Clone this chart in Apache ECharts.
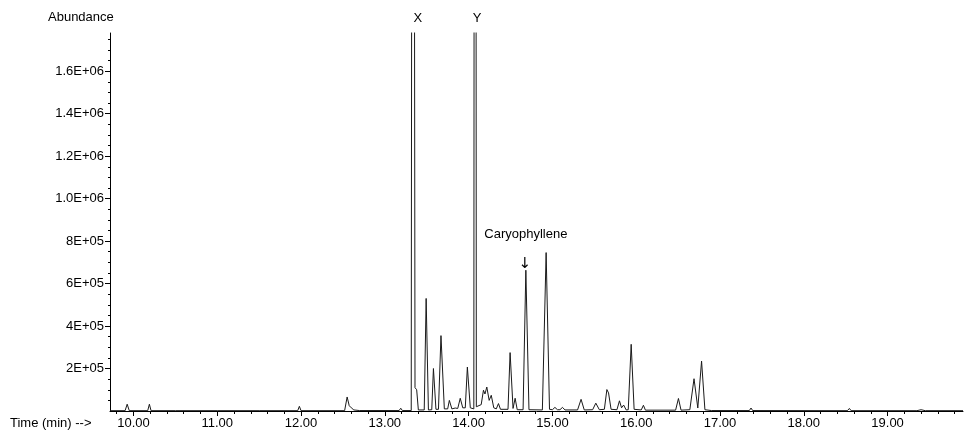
<!DOCTYPE html>
<html>
	<head>
		<meta charset="utf-8" />
		<title>Chromatogram</title>
		<script src="https://cdn.jsdelivr.net/npm/echarts@6/dist/echarts.min.js" type="text/javascript"></script>
		<style>
			html, body { margin: 0; padding: 0; background: #fff; }
		</style>
	</head>
	<body>
		<div id="main" style="width: 964px; height: 433px;"></div>
		<script>
			// retention time (min) and abundance
			var times = [9.72, 9.90, 9.925, 9.95, 10.17, 10.19, 10.21, 10.5, 11.0, 11.5, 11.96, 11.98, 12.00,
				12.52, 12.55, 12.575, 12.60, 12.63, 12.70, 13.17, 13.19, 13.21, 13.315, 13.335, 13.36, 13.38, 13.40,
				13.47, 13.493, 13.52, 13.56, 13.58, 13.61, 13.64, 13.67, 13.71, 13.75, 13.77, 13.80, 13.84, 13.87,
				13.90, 13.93, 13.96, 13.985, 14.02, 14.062, 14.077, 14.092, 14.15, 14.177, 14.195, 14.217, 14.245,
				14.27, 14.30, 14.33, 14.356, 14.38, 14.47, 14.495, 14.53, 14.555, 14.58, 14.65, 14.683, 14.72,
				14.88, 14.925, 14.965, 15.00, 15.03, 15.06, 15.09, 15.12, 15.15, 15.30, 15.342, 15.38, 15.48,
				15.518, 15.56, 15.62, 15.65, 15.67, 15.70, 15.77, 15.80, 15.825, 15.85, 15.88, 15.905, 15.94,
				15.975, 16.06, 16.086, 16.11, 16.47, 16.504, 16.535, 16.64, 16.69, 16.735, 16.78, 16.82, 16.90,
				17.35, 17.37, 17.39, 18.52, 18.544, 18.565, 19.35, 19.40, 19.45, 19.90];
			var abundance = [1500, 1500, 32000, 1500, 1500, 32000, 1500, 1500, 1500, 1500, 1500, 22000, 1500,
				1500, 66000, 25000, 15000, 5000, 2000, 2000, 13000, 2000, 2000, 8000000, 110000, 100000, 5000,
				5000, 530000, 5000, 6000, 200000, 8000, 8000, 355000, 10000, 10000, 50000, 10000, 14000, 12000,
				60000, 15000, 15000, 207000, 15000, 10000, 10000000, 20000, 30000, 98000, 80000, 113000, 50000,
				74000, 15000, 10000, 35000, 8000, 8000, 275000, 12000, 60000, 6000, 6000, 663000, 6000,
				5000, 746000, 8000, 6000, 17000, 6000, 6000, 17000, 5000, 5000, 55000, 5000, 6000,
				37000, 6000, 8000, 101000, 85000, 8000, 6000, 48000, 15000, 28000, 5000, 6000, 314000,
				8000, 5000, 27000, 4000, 4000, 59000, 4000, 6000, 152000, 14000, 235000, 6000, 2000,
				2000, 14000, 2000, 1500, 12000, 1500, 1500, 6000, 1500, 1500];

			var xLabels = [10, 11, 12, 13, 14, 15, 16, 17, 18, 19];
			var xMinorTicks = [9.8, 10.2, 10.4, 10.6, 10.8, 11.2, 11.4, 11.6, 11.8, 12.2, 12.4, 12.6, 12.8,
				13.2, 13.4, 13.6, 13.8, 14.2, 14.4, 14.6, 14.8, 15.2, 15.4, 15.6, 15.8, 16.2, 16.4, 16.6, 16.8,
				17.2, 17.4, 17.6, 17.8, 18.2, 18.4, 18.6, 18.8, 19.2, 19.4, 19.6, 19.8];
			var yTicks = [200000, 400000, 600000, 800000, 1000000, 1200000, 1400000, 1600000];
			var yTickLabels = ['2E+05', '4E+05', '6E+05', '8E+05', '1.0E+06', '1.2E+06', '1.4E+06', '1.6E+06'];
			var yMinorTicks = [50000, 100000, 150000, 250000, 300000, 350000, 450000, 500000, 550000,
				650000, 700000, 750000, 850000, 900000, 950000, 1050000, 1100000, 1150000, 1250000, 1300000,
				1350000, 1450000, 1500000, 1550000, 1650000, 1700000, 1750000];

			var xMin = 9.72, xMax = 19.9, yMax = 1780000;
			var font = 'Liberation Sans';

			var points = [];
			for (var i = 0; i < times.length; i++) {
				points.push([times[i], abundance[i]]);
			}

			var chart = echarts.init(document.getElementById('main'));
			var option = {
				animation: false,
				textStyle: { fontFamily: font, color: '#000' },
				grid: { left: 110, right: 1, top: 33, bottom: 22 },
				xAxis: [{
					type: 'value',
					min: xMin,
					max: xMax,
					position: 'bottom',
					splitLine: { show: false },
					axisLine: { onZero: false, lineStyle: { color: '#000', width: 1 } },
					axisTick: { length: 5, customValues: xLabels, lineStyle: { color: '#000' } },
					axisLabel: {
						customValues: xLabels,
						margin: 6,
						fontSize: 13,
						color: '#000',
						fontFamily: font,
						formatter: function(v) { return v.toFixed(2); }
					}
				}, {
					type: 'value',
					min: xMin,
					max: xMax,
					position: 'bottom',
					splitLine: { show: false },
					axisLine: { show: false, onZero: false },
					axisTick: { length: 3, customValues: xMinorTicks, lineStyle: { color: '#000' } },
					axisLabel: { show: false }
				}],
				yAxis: [{
					type: 'value',
					min: 0,
					max: yMax,
					position: 'left',
					splitLine: { show: false },
					axisLine: { show: true, onZero: false, lineStyle: { color: '#000', width: 1 } },
					axisTick: { show: true, length: 5, customValues: yTicks, lineStyle: { color: '#000' } },
					axisLabel: {
						customValues: yTicks,
						margin: 6,
						fontSize: 13,
						color: '#000',
						fontFamily: font,
						formatter: function(v) {
							var k = yTicks.indexOf(v);
							return k < 0 ? '' : yTickLabels[k];
						}
					}
				}, {
					type: 'value',
					min: 0,
					max: yMax,
					position: 'left',
					splitLine: { show: false },
					axisLine: { show: false, onZero: false },
					axisTick: { show: true, length: 2, customValues: yMinorTicks, lineStyle: { color: '#000' } },
					axisLabel: { show: false }
				}],
				graphic: [{
					type: 'text',
					left: 48,
					top: 11,
					style: { text: 'Abundance', font: '13px "Liberation Sans"', fill: '#000' }
				}, {
					type: 'text',
					left: 10,
					top: 417,
					style: { text: 'Time (min) -->', font: '13px "Liberation Sans"', fill: '#000' }
				}],
				series: [{
					type: 'line',
					data: points,
					xAxisIndex: 0,
					yAxisIndex: 0,
					symbol: 'none',
					clip: true,
					lineStyle: { color: '#1a1a1a', width: 1 },
					markPoint: {
						symbol: 'circle',
						symbolSize: 0,
						label: { show: true, position: 'inside', fontSize: 13, color: '#000', fontFamily: font },
						data: [
							{ coord: [13.335, yMax], label: { formatter: 'X', offset: [5, -15] } },
							{ coord: [14.077, yMax], label: { formatter: 'Y', offset: [2, -15] } },
							{ coord: [14.683, 663000], label: { formatter: 'Caryophyllene', offset: [0, -36] } },
							{ coord: [14.683, 663000], label: { formatter: '↓', offset: [-1, -6], fontSize: 15, fontFamily: 'DejaVu Sans' } }
						]
					}
				}]
			};
			chart.setOption(option);
		</script>
	</body>
</html>
